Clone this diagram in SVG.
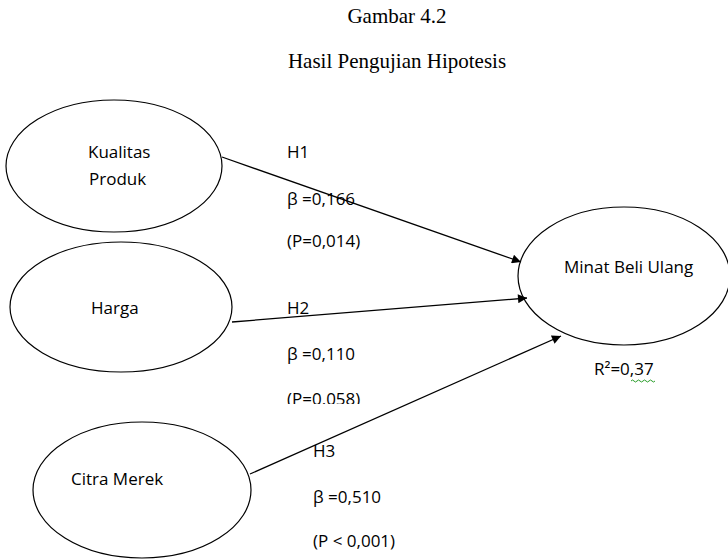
<svg xmlns="http://www.w3.org/2000/svg" width="728" height="560" viewBox="0 0 728 560">
<style>
.node{fill:#fff;stroke:#000;stroke-width:1.2}
.t{font-family:"Open Sans","Liberation Sans",sans-serif;font-size:17px;fill:#000}
.ttl{font-family:"Liberation Serif",serif;font-size:21px;fill:#000}
.c{stroke:#000;stroke-width:1.3;fill:none;marker-end:url(#ah)}
</style>
<defs>
<marker id="ah" viewBox="0 0 10 10" refX="10" refY="5" markerWidth="10" markerHeight="9" markerUnits="userSpaceOnUse" orient="auto">
<path d="M0,0 L10,5 L0,10 z" fill="#000"/>
</marker>
<clipPath id="cl"><rect x="0" y="0" width="728" height="404"/></clipPath>
</defs>
<rect width="728" height="560" fill="#fff"/>
<text class="ttl" x="397" y="23" text-anchor="middle">Gambar 4.2</text>
<text class="ttl" x="397" y="68" text-anchor="middle">Hasil Pengujian Hipotesis</text>
<g id="n1"><ellipse class="node" cx="114" cy="166" rx="108" ry="66"/>
<text class="t" x="88" y="158">Kualitas</text><text class="t" x="89" y="185">Produk</text></g>
<g id="n2"><ellipse class="node" cx="121" cy="307" rx="111" ry="65"/>
<text class="t" x="91" y="314">Harga</text></g>
<g id="n3"><ellipse class="node" cx="142" cy="490" rx="109" ry="68"/>
<text class="t" x="71" y="485">Citra Merek</text></g>
<g id="n4"><ellipse class="node" cx="624" cy="276" rx="106" ry="69"/>
<text class="t" x="564" y="273">Minat Beli Ulang</text></g>
<g id="connectors">
<line class="c" x1="222" y1="157" x2="521" y2="262"/>
<line class="c" x1="232" y1="322" x2="527" y2="298"/>
<line class="c" x1="250" y1="474" x2="561" y2="336"/>
</g>
<g id="labels">
<text class="t" x="287" y="158">H1</text>
<text class="t" x="287" y="205">β =0,166</text>
<text class="t" x="287" y="247">(P=0,014)</text>
<text class="t" x="287" y="314">H2</text>
<text class="t" x="287" y="360">β =0,110</text>
<text class="t" x="287" y="405" clip-path="url(#cl)">(P=0.058)</text>
<text class="t" x="313" y="457">H3</text>
<text class="t" x="313" y="503">β =0,510</text>
<text class="t" x="313" y="547">(P &lt; 0,001)</text>
<text class="t" x="594" y="375">R²=0,37</text>
<path d="M631,381 q1.5,-2 3,0 t3,0 t3,0 t3,0 t3,0 t3,0 t3,0 t3,0" stroke="#2a9d2a" stroke-width="1" fill="none"/>
</g>
</svg>
